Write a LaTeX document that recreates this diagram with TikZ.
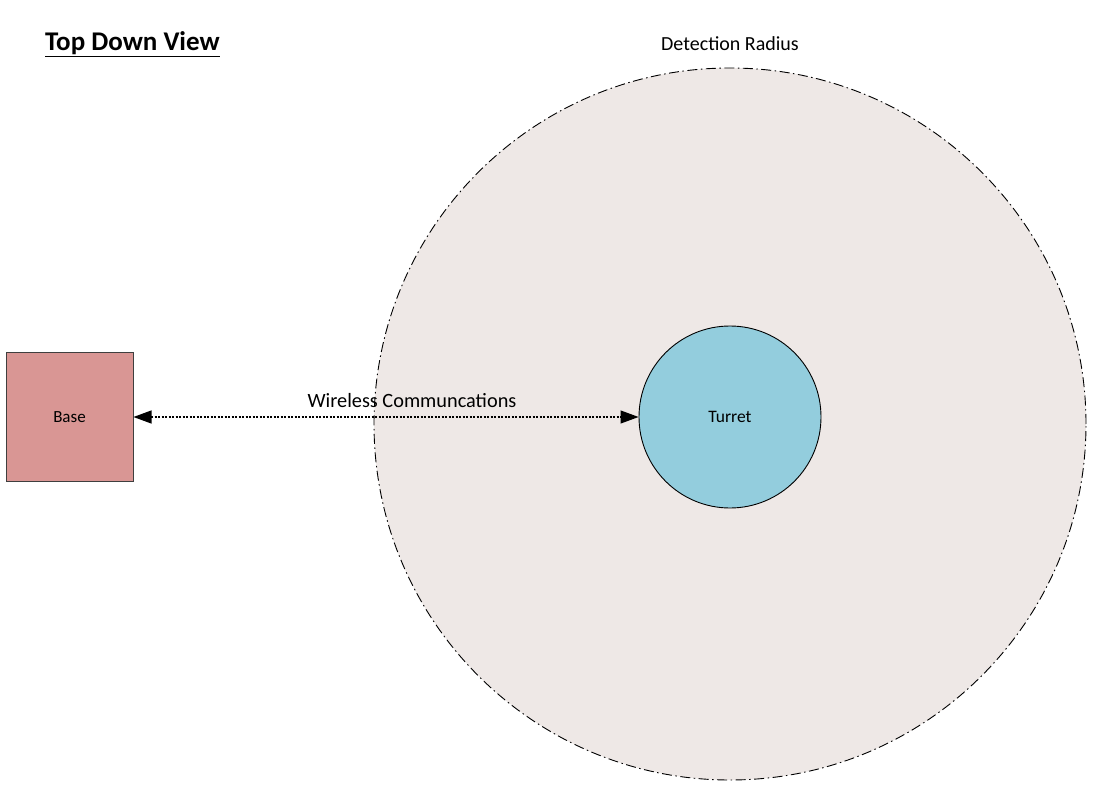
\documentclass[tikz,border=0pt]{standalone}
\usepackage{fontspec}
\setmainfont{Carlito}
\usetikzlibrary{arrows.meta}
\definecolor{radfill}{HTML}{EEE8E6}
\definecolor{turretfill}{HTML}{93CDDD}
\definecolor{basefill}{HTML}{D99694}
\definecolor{baseborder}{HTML}{3F3F3F}
\tikzset{
  radius circle/.style={circle, draw=black, fill=radfill, line width=0.9pt,
    dash pattern=on 10pt off 3.5pt on 1.5pt off 3.5pt, minimum size=712pt, inner sep=0pt},
  turret/.style={circle, draw=black, fill=turretfill, line width=0.9pt, minimum size=182pt, inner sep=0pt, font=\fontsize{17.5}{20}\selectfont},
  basebox/.style={draw=baseborder, fill=basefill, line width=1pt, minimum width=127pt, minimum height=128pt, inner sep=0pt, font=\fontsize{17}{20}\selectfont},
  link/.style={line width=1.1pt, dash pattern=on 2pt off 1.5pt, {Triangle[length=18pt,width=13pt]}-{Triangle[length=18pt,width=13pt]}},
  lbl/.style={inner sep=0pt, font=\fontsize{20}{24}\selectfont}
}
\begin{document}
\begin{tikzpicture}[x=1pt,y=-1pt]
\useasboundingbox (0,0) rectangle (1106,802);
\node[radius circle] (det) at (730,424) {};
\node[lbl] (detlbl) at (730,44) {Detection Radius};
\node[turret] (turret) at (730,417) {Turret};
\node[basebox] (base) at (69.5,417) {Base};
\draw[link] (base.east) -- (turret.west);
\node[lbl, font=\fontsize{20.3}{24}\selectfont] (wl) at (412,401) {Wireless Communcations};
\node[lbl, anchor=west, font=\fontsize{27}{32}\selectfont\bfseries] (title) at (45,44) {\underline{Top Down View}};
\end{tikzpicture}
\end{document}
